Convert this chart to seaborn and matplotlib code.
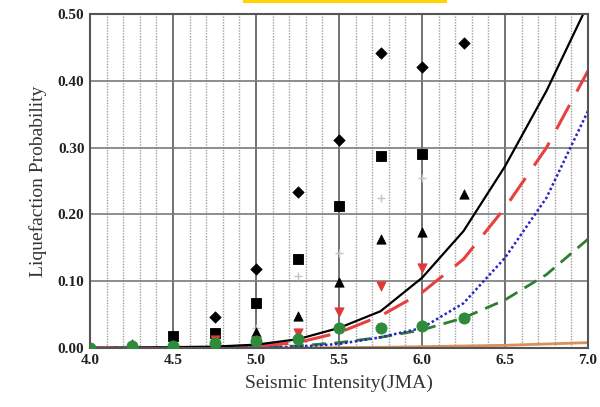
import numpy as np
import pandas as pd
import seaborn as sns
import matplotlib.pyplot as plt
from matplotlib.patches import Rectangle
from matplotlib.ticker import MultipleLocator

sns.set_style('white')
plt.rcParams['font.family'] = ['Liberation Serif', 'DejaVu Serif']

# observed points (seismic intensity columns)
x_obs = [4.0, 4.25, 4.5, 4.75, 5.0, 5.25, 5.5, 5.75, 6.0, 6.25]
diamond_x = [4.75, 5.0, 5.25, 5.5, 5.75, 6.0, 6.25]
diamond_y = [0.046, 0.118, 0.233, 0.312, 0.442, 0.421, 0.457]
square_x = [4.5, 4.75, 5.0, 5.25, 5.5, 5.75, 6.0]
square_y = [0.018, 0.022, 0.067, 0.133, 0.213, 0.287, 0.291]
plus_x = [4.75, 5.0, 5.25, 5.5, 5.75, 6.0]
plus_y = [0.010, 0.030, 0.108, 0.142, 0.225, 0.255]
tri_up_x = [4.25, 4.75, 5.0, 5.25, 5.5, 5.75, 6.0, 6.25]
tri_up_y = [0.006, 0.014, 0.024, 0.048, 0.099, 0.163, 0.174, 0.231]
tri_dn_x = [4.75, 5.0, 5.25, 5.5, 5.75, 6.0]
tri_dn_y = [0.012, 0.010, 0.023, 0.054, 0.093, 0.120]
circle_y = [0.0, 0.003, 0.003, 0.008, 0.010, 0.013, 0.030, 0.030, 0.033, 0.045]

# fitted curves
x_fit = [4.0, 4.25, 4.5, 4.75, 5.0, 5.25, 5.5, 5.75, 6.0, 6.25, 6.5, 6.75, 7.0]
black_fit = [0.0, 0.0005, 0.001, 0.002, 0.005, 0.013, 0.030, 0.055, 0.105, 0.175, 0.272, 0.385, 0.515]
red_fit = [0.0, 0.0, 0.001, 0.001, 0.003, 0.008, 0.023, 0.048, 0.083, 0.133, 0.210, 0.300, 0.415]
blue_fit = [0.0, 0.0, 0.0, 0.0, 0.0005, 0.002, 0.006, 0.016, 0.030, 0.067, 0.135, 0.225, 0.355]
green_fit = [0.0, 0.0, 0.0, 0.0, 0.0005, 0.003, 0.008, 0.016, 0.027, 0.045, 0.072, 0.110, 0.163]
orange_fit = [0.0, 0.0, 0.0, 0.0, 0.0, 0.0, 0.0005, 0.001, 0.002, 0.003, 0.004, 0.006, 0.008]

fig = plt.figure(figsize=(6, 4.07), dpi=100)
ax = fig.add_axes([0.15, 0.145, 0.83, 0.8205])

# curves
sns.lineplot(x=x_fit, y=orange_fit, ax=ax, color='#d9905a', lw=2.0)
sns.lineplot(x=x_fit, y=green_fit, ax=ax, color='#2e7d32', lw=2.0, linestyle=(0, (5, 3)))
sns.lineplot(x=x_fit, y=blue_fit, ax=ax, color='#2626c4', lw=1.8, linestyle=(0, (1, 1)))
sns.lineplot(x=x_fit, y=red_fit, ax=ax, color='#e84040', lw=2.2, linestyle=(0, (9, 5)))
sns.lineplot(x=x_fit, y=black_fit, ax=ax, color='black', lw=1.6)

# observed markers
sns.scatterplot(x=diamond_x, y=diamond_y, ax=ax, marker='D', s=34, color='black',
                edgecolor='black', zorder=5)
sns.scatterplot(x=square_x, y=square_y, ax=ax, marker='s', s=60, color='black',
                edgecolor='black', zorder=5)
sns.scatterplot(x=plus_x, y=plus_y, ax=ax, marker='+', s=40, color='#c4c4c4', linewidth=1, zorder=5)
sns.scatterplot(x=tri_up_x, y=tri_up_y, ax=ax, marker='^', s=45, color='black',
                edgecolor='black', zorder=5)
sns.scatterplot(x=tri_dn_x, y=tri_dn_y, ax=ax, marker='v', s=45, color='#e03838',
                edgecolor='#e03838', zorder=5)
sns.scatterplot(x=x_obs, y=circle_y, ax=ax, marker='o', s=64, color='#2e8b3a',
                edgecolor='#2e8b3a', zorder=6)

ax.set_xlim(4.0, 7.0)
ax.set_ylim(0.0, 0.5)
ax.xaxis.set_major_locator(MultipleLocator(0.5))
ax.xaxis.set_minor_locator(MultipleLocator(0.1))
ax.yaxis.set_major_locator(MultipleLocator(0.1))
ax.grid(which='major', axis='x', color='#5a5a5a', lw=1.2)
ax.grid(which='minor', axis='x', color='#a0a0a0', lw=1.0, linestyle=(0, (1, 1)))
ax.grid(which='major', axis='y', color='#7a7a7a', lw=1.2)
ax.set_axisbelow(True)
for s in ax.spines.values():
    s.set_color('#555555')
    s.set_linewidth(1.5)

ax.set_xticklabels([f'{v:.1f}' for v in ax.get_xticks()], fontweight='bold', fontsize=11)
ax.set_yticklabels([f'{v:.2f}' for v in ax.get_yticks()], fontweight='bold', fontsize=11)
ax.tick_params(axis='both', which='both', length=0, pad=4, colors='#222222')
ax.set_xlabel('Seismic Intensity(JMA)', fontsize=14, color='#333333', labelpad=6)
ax.set_ylabel('Liquefaction Probability', fontsize=14, color='#333333', labelpad=8)

# cropped title highlight at the top
fig.add_artist(Rectangle((243 / 600, 1 - 3 / 407), 204 / 600, 3 / 407,
                         transform=fig.transFigure, color='#ffd400', lw=0))

plt.savefig('out.png', dpi=100)
plt.close()
